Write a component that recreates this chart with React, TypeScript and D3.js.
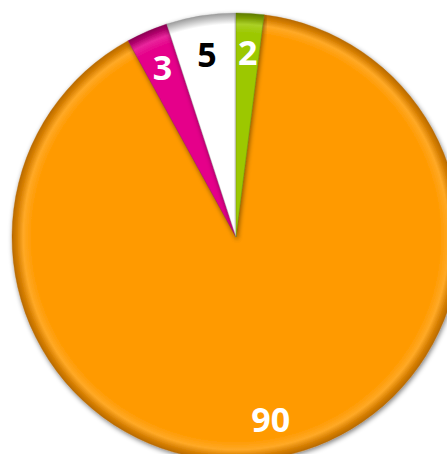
import React from "react";
import * as d3 from "d3";

const categories = ["A", "B", "C", "D"];
const values = [90, 3, 5, 2];
const colors = ["#FF9A00", "#E5008A", "#FFFFFF", "#9CC800"];
const edgeColors = ["#B86A00", "#8A0053", "#9A9A9A", "#5E7A00"];
const labelColors = ["#FFFFFF", "#FFFFFF", "#000000", "#FFFFFF"];

const W = 447;
const H = 454;
const cx = 236;
const cy = 237;
const R = 224;

export default function App() {
  const total = d3.sum(values);
  const offset = (values[values.length - 1] / total) * 2 * Math.PI;
  const pie = d3
    .pie<number>()
    .sort(null)
    .startAngle(offset)
    .endAngle(offset + 2 * Math.PI)
    .value((d) => d);
  const arcs = pie(values);
  const arc = d3.arc<d3.PieArcDatum<number>>().innerRadius(0).outerRadius(R);
  const labelArc = d3.arc<d3.PieArcDatum<number>>().innerRadius(185).outerRadius(185);

  return (
    <svg
      width={W}
      height={H}
      style={{ position: "absolute", left: 0, top: 0, background: "#fff" }}
    >
      <defs>
        {arcs.map((a, i) => (
          <radialGradient
            key={i}
            id={`g${i}`}
            gradientUnits="userSpaceOnUse"
            cx={0}
            cy={0}
            r={R}
          >
            <stop offset="0%" stopColor={colors[i]} />
            <stop offset="91%" stopColor={colors[i]} />
            <stop offset="95%" stopColor={d3.interpolateRgb(colors[i], "#fff")(0.15)} />
            <stop offset="98%" stopColor={d3.interpolateRgb(colors[i], edgeColors[i])(0.6)} />
            <stop offset="100%" stopColor={edgeColors[i]} />
          </radialGradient>
        ))}
        <filter id="sh" x="-10%" y="-10%" width="120%" height="120%">
          <feGaussianBlur in="SourceAlpha" stdDeviation="2.5" />
          <feOffset dx="1" dy="2" result="b" />
          <feComponentTransfer>
            <feFuncA type="linear" slope="0.5" />
          </feComponentTransfer>
          <feMerge>
            <feMergeNode />
            <feMergeNode in="SourceGraphic" />
          </feMerge>
        </filter>
      </defs>
      <g transform={`translate(${cx},${cy})`}>
        {arcs.map((a, i) => (
          <path
            key={categories[i]}
            d={arc(a) || ""}
            fill={`url(#g${i})`}
            stroke={edgeColors[i]}
            strokeOpacity={0.35}
            strokeWidth={1}
            filter="url(#sh)"
          />
        ))}
        {arcs.map((a, i) => {
          const [x, y] = labelArc.centroid(a);
          return (
            <text
              key={"t" + i}
              x={x}
              y={y}
              textAnchor="middle"
              dominantBaseline="central"
              fontFamily="'Open Sans', sans-serif"
              fontWeight="bold"
              fontSize={34}
              fill={labelColors[i]}
            >
              {values[i]}
            </text>
          );
        })}
      </g>
    </svg>
  );
}
